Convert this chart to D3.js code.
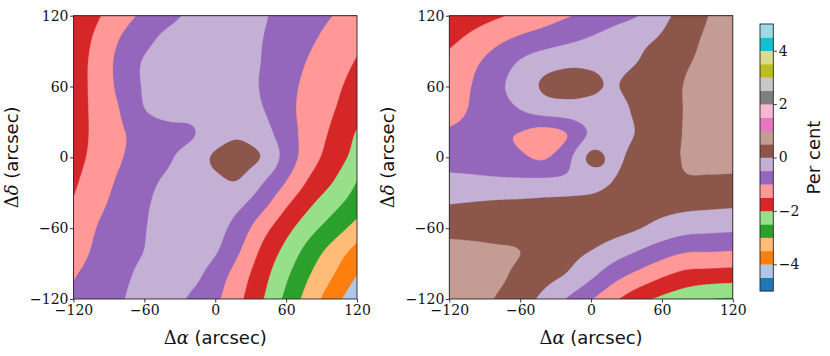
<!DOCTYPE html>
<html><head><meta charset="utf-8">
<script src="https://cdn.jsdelivr.net/npm/d3@7"></script>
<style>body{margin:0;background:#fff}svg{display:block}</style>
</head><body>
<svg id="c" width="830" height="356"></svg>
<script>
// ---- data ----
const axisTicks = [-120, -60, 0, 60, 120];
const gridNodes = [-120, -100, -80, -60, -40, -20, 0, 20, 40, 60, 80, 100, 120];
const levels = [-5, -4.5, -4, -3.5, -3, -2.5, -2, -1.5, -1, -0.5, 0, 0.5, 1, 1.5, 2, 2.5, 3, 3.5, 4, 4.5, 5];
const cbarTicks = [-4, -2, 0, 2, 4];
const tab20 = ["#1f77b4","#aec7e8","#ff7f0e","#ffbb78","#2ca02c","#98df8a","#d62728","#ff9896","#9467bd","#c5b0d5",
               "#8c564b","#c49c94","#e377c2","#f7b6d2","#7f7f7f","#c7c7c7","#bcbd22","#dbdb8d","#17becf","#9edae5"];
// rows: Δδ = 120 (top) ... -120 (bottom); columns: Δα = -120 ... 120
const leftField = [
  [-1.92,-1.56,-1.21,-0.90,-0.655,-0.39,-0.215,-0.236,-0.449,-0.652,-0.83,-1.01,-1.26],
  [-1.84,-1.40,-0.977,-0.645,-0.37,-0.23,-0.205,-0.296,-0.497,-0.716,-0.935,-1.163,-1.40],
  [-1.79,-1.32,-0.86,-0.455,-0.284,-0.206,-0.219,-0.323,-0.519,-0.786,-1.048,-1.29,-1.54],
  [-1.77,-1.325,-0.88,-0.455,-0.283,-0.205,-0.221,-0.33,-0.54,-0.85,-1.134,-1.39,-1.68],
  [-1.74,-1.36,-0.98,-0.52,-0.30,-0.32,-0.24,-0.30,-0.48,-0.855,-1.19,-1.48,-1.81],
  [-1.72,-1.38,-1.05,-0.865,-0.707,-0.551,-0.20,-0.06,-0.30,-0.77,-1.22,-1.60,-2.05],
  [-1.67,-1.35,-1.03,-0.80,-0.573,-0.26,0.05,0.12,-0.04,-0.70,-1.29,-1.74,-2.19],
  [-1.58,-1.24,-0.92,-0.65,-0.42,-0.25,-0.08,-0.02,-0.45,-1.0,-1.57,-2.0,-2.5],
  [-1.47,-1.12,-0.83,-0.567,-0.32,-0.206,-0.236,-0.41,-0.86,-1.44,-1.94,-2.36,-2.77],
  [-1.38,-0.99,-0.76,-0.526,-0.27,-0.20,-0.325,-0.725,-1.31,-1.84,-2.33,-2.76,-3.19],
  [-1.22,-0.91,-0.70,-0.49,-0.233,-0.226,-0.458,-0.977,-1.61,-2.16,-2.72,-3.21,-3.68],
  [-1.03,-0.83,-0.63,-0.362,-0.20,-0.35,-0.74,-1.245,-1.82,-2.42,-3.0,-3.5,-4.01],
  [-0.96,-0.75,-0.55,-0.245,-0.253,-0.59,-0.91,-1.40,-1.975,-2.62,-3.24,-3.80,-4.35]
];
const rightField = [
  [-1.91,-1.74,-1.57,-1.39,-1.22,-1.04,-0.865,-0.68,-0.50,-0.14,0.20,0.51,0.75],
  [-1.62,-1.37,-1.12,-0.915,-0.76,-0.605,-0.45,-0.29,-0.125,0.06,0.35,0.58,0.75],
  [-1.36,-1.09,-0.78,-0.45,-0.20,-0.08,-0.07,-0.10,0.01,0.24,0.46,0.60,0.75],
  [-1.27,-0.98,-0.63,-0.28,0.05,0.12,0.05,-0.02,0.15,0.32,0.52,0.65,0.75],
  [-1.21,-0.94,-0.73,-0.51,-0.30,-0.22,-0.15,-0.15,0.09,0.30,0.52,0.65,0.75],
  [-0.91,-0.85,-0.93,-1.02,-1.20,-0.99,-0.42,-0.22,0.04,0.28,0.53,0.65,0.72],
  [-0.67,-0.68,-0.75,-0.92,-1.05,-0.65,0.10,-0.10,0.20,0.35,0.53,0.60,0.60],
  [-0.39,-0.41,-0.43,-0.43,-0.42,-0.39,-0.25,0.02,0.25,0.35,0.45,0.44,0.43],
  [0.0,0.04,0.08,0.10,0.13,0.17,0.22,0.30,0.25,0.17,0.12,0.09,0.06],
  [0.35,0.33,0.30,0.32,0.30,0.30,0.25,0.16,0.02,-0.19,-0.33,-0.38,-0.41],
  [0.65,0.62,0.57,0.50,0.35,0.15,-0.02,-0.28,-0.53,-0.79,-0.98,-1.0,-1.03],
  [0.75,0.72,0.60,0.38,0.16,-0.05,-0.41,-0.83,-1.15,-1.44,-1.66,-1.72,-1.76],
  [0.80,0.70,0.47,0.20,-0.12,-0.54,-0.97,-1.42,-1.83,-2.11,-2.32,-2.50,-2.55]
];

// ---- layout ----
const svg = d3.select("#c");
const PW = 283.5, PH = 283.3, PT = 15.7;
const panels = [{x0: 73.5, field: leftField, id: "L"}, {x0: 449.3, field: rightField, id: "R"}];
const N = 241;
const tickFmt = d => d < 0 ? "\u2212" + Math.abs(d) : String(d);
const serif = "'DejaVu Serif', serif";
const sans = "'DejaVu Sans', sans-serif";

function cr(p0, p1, p2, p3, t) {
  return 0.5 * (2 * p1 + (-p0 + p2) * t + (2 * p0 - 5 * p1 + 4 * p2 - p3) * t * t + (-p0 + 3 * p1 - 3 * p2 + p3) * t * t * t);
}
function fine(F) {
  const n = F.length, m = F[0].length;
  const get = (j, i) => {
    if (i < 0) return 2 * get(j, 0) - get(j, 1);
    if (i > m - 1) return 2 * get(j, m - 1) - get(j, m - 2);
    if (j < 0) return 2 * get(0, i) - get(1, i);
    if (j > n - 1) return 2 * get(n - 1, i) - get(n - 2, i);
    return F[j][i];
  };
  const out = new Float64Array(N * N);
  for (let r = 0; r < N; r++) {
    const gy = r * (n - 1) / (N - 1); const j = Math.min(Math.floor(gy), n - 2); const ty = gy - j;
    for (let c = 0; c < N; c++) {
      const gx = c * (m - 1) / (N - 1); const i = Math.min(Math.floor(gx), m - 2); const tx = gx - i;
      const v = [-1, 0, 1, 2].map(dj => cr(get(j + dj, i - 1), get(j + dj, i), get(j + dj, i + 1), get(j + dj, i + 2), tx));
      out[r * N + c] = cr(v[0], v[1], v[2], v[3], ty);
    }
  }
  return out;
}

const defs = svg.append("defs");
panels.forEach(p => {
  const xs = d3.scaleLinear().domain([gridNodes[0], gridNodes[gridNodes.length - 1]]).range([p.x0, p.x0 + PW]);
  const ys = d3.scaleLinear().domain([gridNodes[0], gridNodes[gridNodes.length - 1]]).range([PT + PH, PT]);
  defs.append("clipPath").attr("id", "clip" + p.id).append("rect")
    .attr("x", p.x0).attr("y", PT).attr("width", PW).attr("height", PH);
  const step = (gridNodes[gridNodes.length - 1] - gridNodes[0]) / (N - 1);
  const proj = d3.geoTransform({point: function (x, y) {
    this.stream.point(xs(gridNodes[0] + (x - 0.5) * step), ys(gridNodes[gridNodes.length - 1] - (y - 0.5) * step));
  }});
  const path = d3.geoPath(proj);
  const vals = fine(p.field);
  const cs = d3.contours().size([N, N]).thresholds(levels.slice(0, -1))(vals);
  const g = svg.append("g").attr("clip-path", "url(#clip" + p.id + ")");
  g.selectAll("path").data(cs).join("path")
    .attr("d", path)
    .attr("fill", d => tab20[Math.round((d.value - levels[0]) / 0.5)])
    .attr("stroke", d => tab20[Math.round((d.value - levels[0]) / 0.5)])
    .attr("stroke-width", 0.3);
  // frame
  svg.append("rect").attr("x", p.x0).attr("y", PT).attr("width", PW).attr("height", PH)
    .attr("fill", "none").attr("stroke", "#262626").attr("stroke-width", 0.9);
  // axes
  const ax = svg.append("g").attr("transform", `translate(0,${PT + PH})`)
    .call(d3.axisBottom(xs).tickValues(axisTicks).tickSize(3.5).tickPadding(2.5).tickFormat(tickFmt));
  const ay = svg.append("g").attr("transform", `translate(${p.x0},0)`)
    .call(d3.axisLeft(ys).tickValues(axisTicks).tickSize(3.5).tickPadding(1.5).tickFormat(tickFmt));
  [ax, ay].forEach(a => {
    a.select(".domain").remove();
    a.selectAll("line").attr("stroke", "#262626").attr("stroke-width", 0.9);
    a.selectAll("text").attr("font-family", serif).attr("font-size", 14).attr("fill", "#111");
  });
  // labels
  const xl = svg.append("text").attr("x", p.x0 + PW / 2).attr("y", 344).attr("text-anchor", "middle")
    .attr("font-size", 18).attr("fill", "#111");
  xl.append("tspan").attr("font-family", serif).text("\u0394");
  xl.append("tspan").attr("font-family", serif).attr("font-style", "italic").text("\u03b1");
  xl.append("tspan").attr("font-family", sans).text(" (arcsec)");
  const yl = svg.append("text").attr("transform", `translate(${p.x0 - 55.8},${PT + PH / 2}) rotate(-90)`)
    .attr("text-anchor", "middle").attr("font-size", 18).attr("fill", "#111");
  yl.append("tspan").attr("font-family", serif).text("\u0394");
  yl.append("tspan").attr("font-family", serif).attr("font-style", "italic").text("\u03b4");
  yl.append("tspan").attr("font-family", sans).text(" (arcsec)");
});

// ---- colorbar ----
const CX = 760, CW = 13.3, CT = 24, CB = 291;
const cs = d3.scaleLinear().domain([levels[0], levels[levels.length - 1]]).range([CB, CT]);
svg.append("g").selectAll("rect").data(levels.slice(0, -1)).join("rect")
  .attr("x", CX).attr("width", CW)
  .attr("y", d => cs(d + 0.5)).attr("height", d => cs(d) - cs(d + 0.5) + 0.3)
  .attr("fill", (d, i) => tab20[i]);
svg.append("rect").attr("x", CX).attr("y", CT).attr("width", CW).attr("height", CB - CT)
  .attr("fill", "none").attr("stroke", "#262626").attr("stroke-width", 0.9);
const ca = svg.append("g").attr("transform", `translate(${CX + CW},0)`)
  .call(d3.axisRight(cs).tickValues(cbarTicks).tickSize(3.5).tickPadding(2).tickFormat(tickFmt));
ca.select(".domain").remove();
ca.selectAll("line").attr("stroke", "#262626").attr("stroke-width", 0.9);
ca.selectAll("text").attr("font-family", serif).attr("font-size", 14).attr("fill", "#111");
svg.append("text").attr("transform", `translate(820,${(CT + CB) / 2}) rotate(-90)`)
  .attr("text-anchor", "middle").attr("font-family", sans).attr("font-size", 18).attr("fill", "#111")
  .text("Per cent");
</script>
</body></html>
